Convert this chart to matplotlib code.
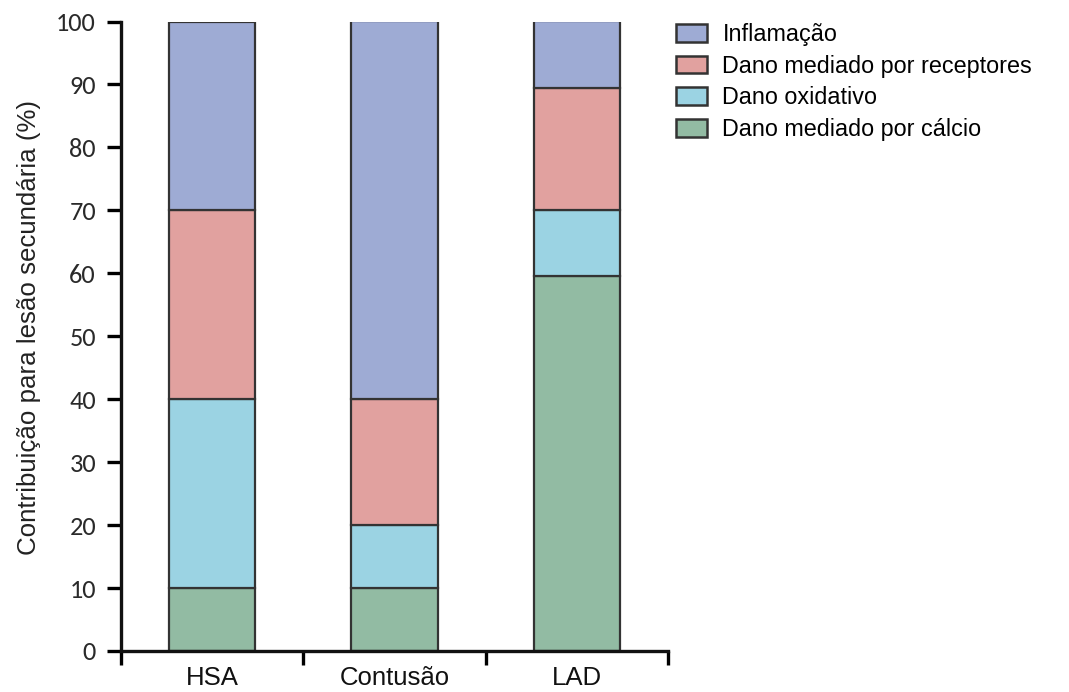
import numpy as np
import matplotlib
matplotlib.use('Agg')
import matplotlib.pyplot as plt
from matplotlib.patches import Patch

#%% Data

categories = ['HSA', 'Contusão', 'LAD']
series_names = ['Dano mediado por cálcio', 'Dano oxidativo',
                'Dano mediado por receptores', 'Inflamação']
calcio = [10, 10, 59.5]
oxidativo = [30, 10, 10.5]
receptores = [30, 20, 19.5]
inflamacao = [30, 60, 10.5]
yticks = [0, 10, 20, 30, 40, 50, 60, 70, 80, 90, 100]

colours = ['#92bba3', '#9bd3e3', '#e1a19f', '#9eabd4']

#%% Plot

arial = ['Liberation Sans', 'DejaVu Sans']

fig = plt.figure(figsize=(10.69, 6.92), dpi=100)
ax = fig.add_axes([121 / 1069, 1 - 651 / 692, (668 - 121) / 1069, (651 - 21.5) / 692])

x = np.arange(len(categories))
bottom = np.zeros(len(categories))
for vals, col in zip([calcio, oxidativo, receptores, inflamacao], colours):
    ax.bar(x, vals, width=0.475, bottom=bottom, color=col,
           edgecolor='#333333', linewidth=1.6)
    bottom += np.array(vals)

ax.set_xlim(-0.5, 2.5)
ax.set_ylim(0, 100)
ax.set_yticks(yticks)
ax.set_yticklabels([str(t) for t in yticks], family=['Carlito', 'DejaVu Sans'],
                   fontsize=19, color='#2a2a2a')
ax.set_xticks(x)
ax.set_xticklabels(categories, family=arial, fontsize=18.5, color='#111111')
ax.set_xticks([-0.5, 0.5, 1.5, 2.5], minor=True)
ax.tick_params(axis='x', which='major', length=0, pad=11)
ax.tick_params(axis='x', which='minor', length=10, width=2.4, direction='out')
ax.tick_params(axis='y', length=10, width=2.4, direction='out', pad=8)

for side in ['top', 'right']:
    ax.spines[side].set_visible(False)
for side in ['left', 'bottom']:
    ax.spines[side].set_linewidth(2.4)
    ax.spines[side].set_color('#111111')

ax.set_ylabel('Contribuição para lesão secundária (%)', fontsize=18.6,
              family=arial, color='#222222')
ax.yaxis.set_label_coords(-0.146, 0.514)

handles = [Patch(facecolor=colours[i], edgecolor='#333333', linewidth=1.8)
           for i in [3, 2, 1, 0]]
labels = [series_names[i] for i in [3, 2, 1, 0]]
fig.legend(handles, labels, loc='upper left', bbox_to_anchor=(676 / 1069, 1 - 23 / 692),
           frameon=False, prop={'family': arial, 'size': 16.8},
           handlelength=1.31, handleheight=0.8, handletextpad=0.68, labelspacing=0.37,
           borderaxespad=0, borderpad=0)

fig.savefig('out.png', dpi=100)
